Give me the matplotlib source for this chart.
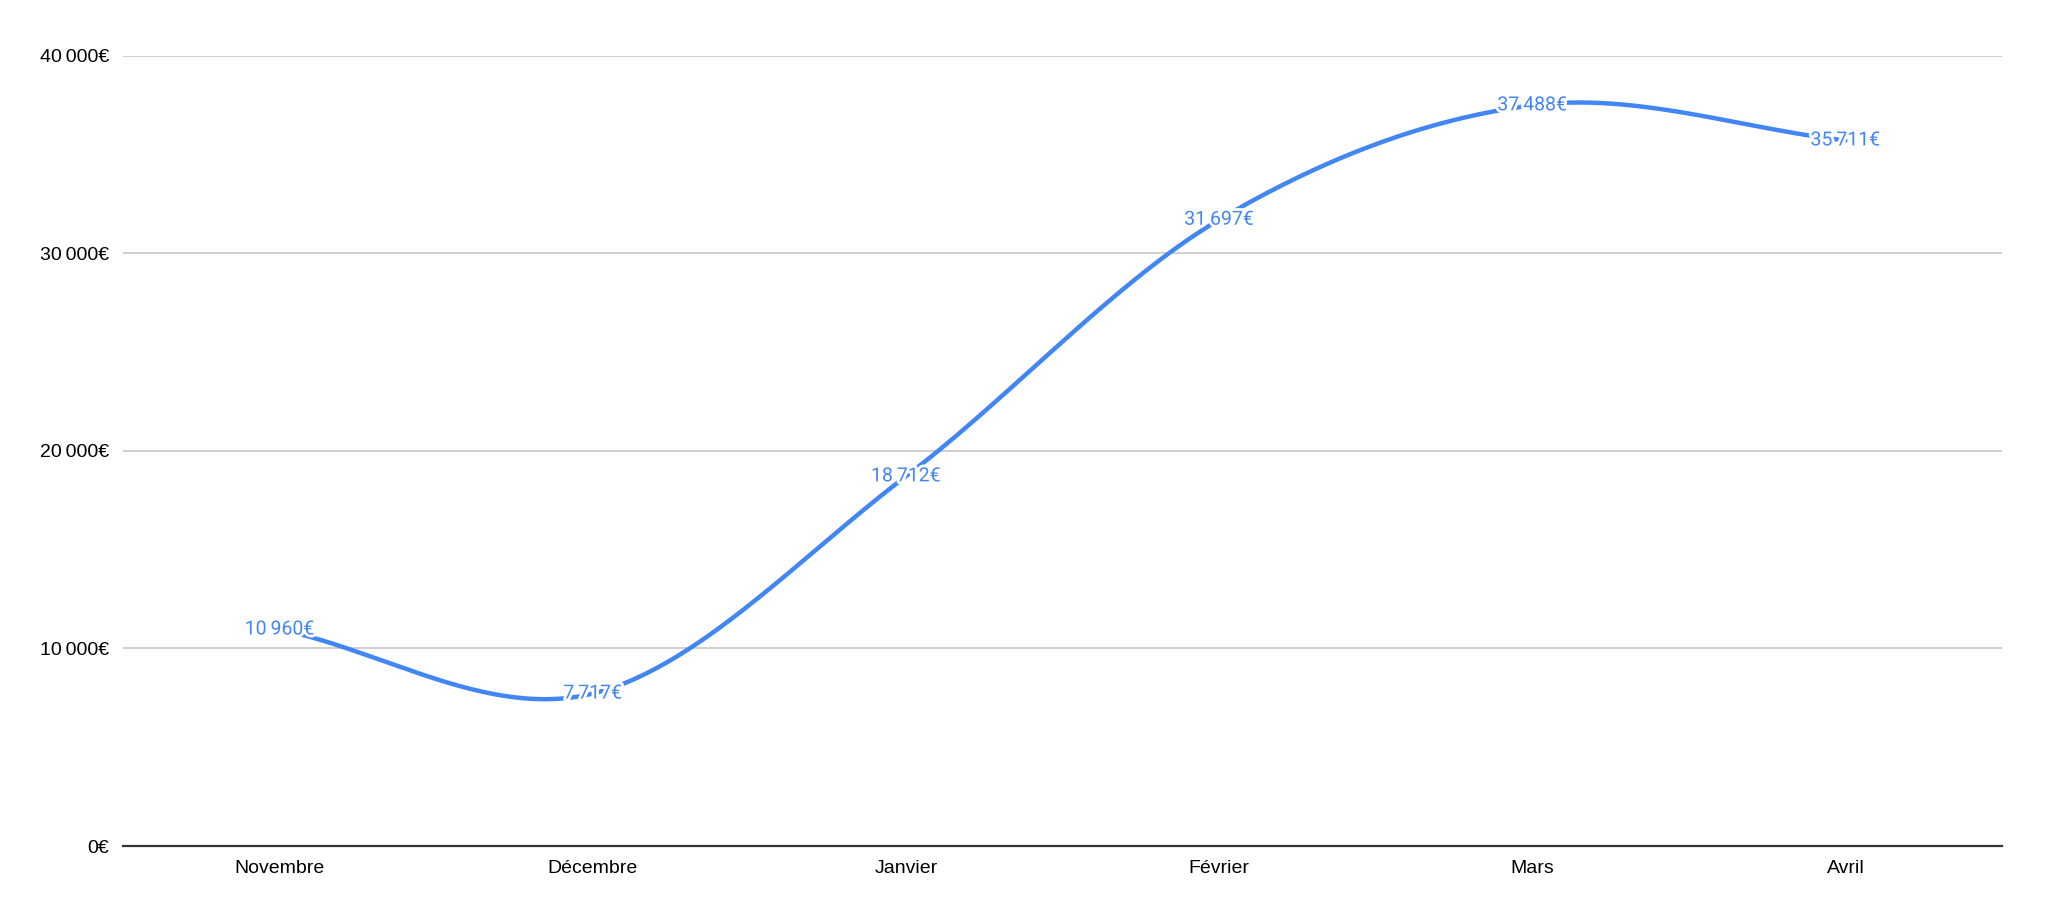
import numpy as np
import matplotlib
matplotlib.use("Agg")
import matplotlib.pyplot as plt
import matplotlib.patheffects as pe

# data
mois = ["Novembre", "Décembre", "Janvier", "Février", "Mars", "Avril"]
ventes = [10960, 7717, 18712, 31697, 37488, 35711]
y_ticks = [0, 10000, 20000, 30000, 40000]

BLUE = "#4285F4"
SP = "\u2009"


def euro(v):
    return f"{v:,.0f}".replace(",", SP) + "€"


def catmull_rom(x, y, n=60):
    # smooth curve through the points (drawing only)
    x = np.asarray(x, float)
    y = np.asarray(y, float)
    px = np.concatenate([[2 * x[0] - x[1]], x, [2 * x[-1] - x[-2]]])
    py = np.concatenate([[2 * y[0] - y[1]], y, [2 * y[-1] - y[-2]]])
    xs, ys = [], []
    t = np.linspace(0, 1, n)
    for i in range(1, len(px) - 2):
        for p, out in ((px, xs), (py, ys)):
            p0, p1, p2, p3 = p[i - 1], p[i], p[i + 1], p[i + 2]
            out.extend(0.5 * (2 * p1 + (-p0 + p2) * t
                              + (2 * p0 - 5 * p1 + 4 * p2 - p3) * t ** 2
                              + (-p0 + 3 * p1 - 3 * p2 + p3) * t ** 3))
    return np.array(xs), np.array(ys)


fig = plt.figure(figsize=(20.48, 9.22), dpi=100)
ax = fig.add_axes([0.0601, 0.0824, 0.9174, 0.8572])

x = np.arange(len(mois))
cx, cy = catmull_rom(x, ventes)
ax.plot(cx, cy, color=BLUE, lw=3.2, solid_capstyle="round", zorder=3)

for xi, v in zip(x, ventes):
    ax.text(xi, v, euro(v), ha="center", va="center", color=BLUE,
            fontsize=14, family=["Roboto", "DejaVu Sans"], zorder=4,
            path_effects=[pe.withStroke(linewidth=4, foreground="white")])

ax.set_xlim(-0.5, len(mois) - 0.5)
ax.set_ylim(0, 40000)
ax.set_xticks(x)
ax.set_xticklabels(mois, family=["Liberation Sans", "DejaVu Sans"], fontsize=14)
ax.set_yticks(y_ticks)
ax.set_yticklabels([euro(v) for v in y_ticks],
                   family=["Liberation Sans", "DejaVu Sans"], fontsize=14)
ax.tick_params(axis="both", length=0, colors="black")
ax.tick_params(axis="y", pad=10)
ax.tick_params(axis="x", pad=10)

ax.grid(axis="y", color="#cccccc", lw=1.3, zorder=0)
ax.set_axisbelow(True)
for s in ["top", "right", "left"]:
    ax.spines[s].set_visible(False)
ax.spines["bottom"].set_color("#333333")
ax.spines["bottom"].set_linewidth(1.6)
ax.spines["bottom"].set_zorder(2)

fig.savefig("out.png", dpi=100, facecolor="white")
